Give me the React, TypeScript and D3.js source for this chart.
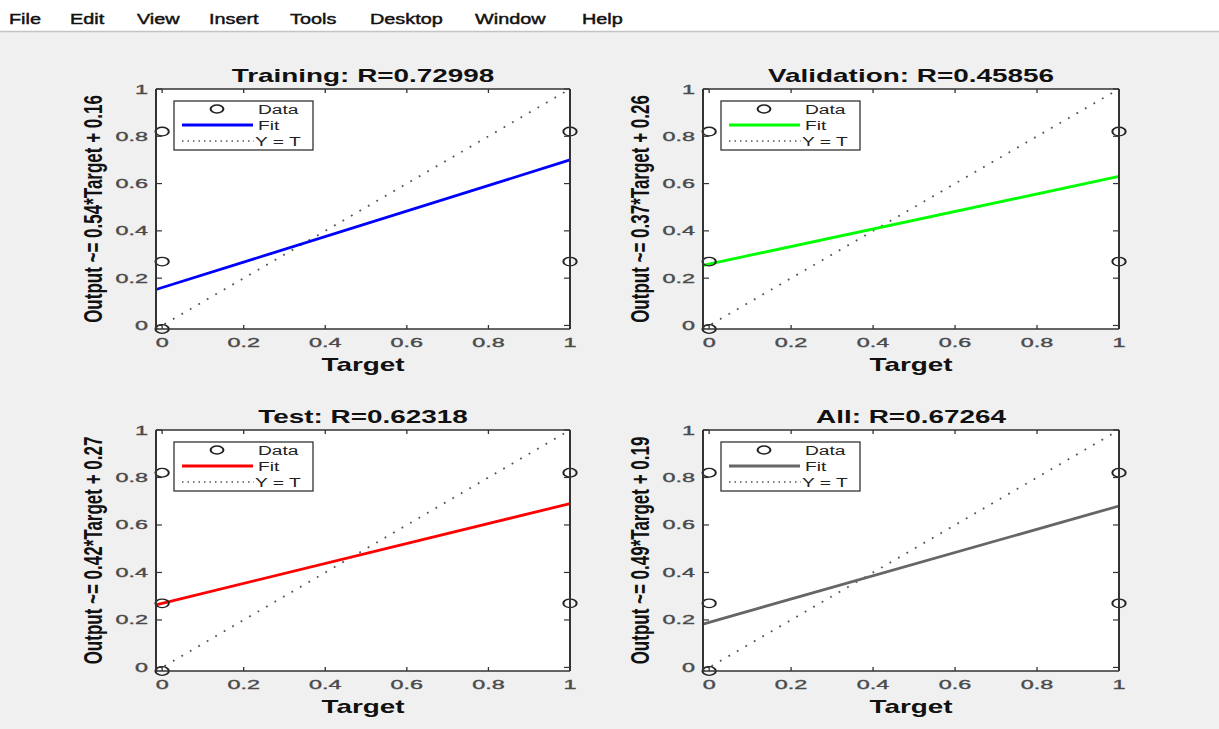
import React from "react";
import * as d3 from "d3";

// ---------- data ----------
const menuItems = ["File", "Edit", "View", "Insert", "Tools", "Desktop", "Window", "Help"];
const panelNames = ["Training", "Validation", "Test", "All"];
const rValues = ["0.72998", "0.45856", "0.62318", "0.67264"];
const slopes = [0.54, 0.37, 0.42, 0.49];
const intercepts = [0.16, 0.26, 0.27, 0.19];
const slopeLabels = ["0.54", "0.37", "0.42", "0.49"];
const interceptLabels = ["0.16", "0.26", "0.27", "0.19"];
const fitColors = ["#0000ff", "#00ff00", "#ff0000", "#666666"];
const dataTargets = [0, 0, 0, 1, 1];
const dataOutputs = [0.82, 0.27, -0.015, 0.82, 0.27];
const axisLimits: [number, number] = [-0.015, 1];
const tickValues = [0, 0.2, 0.4, 0.6, 0.8, 1];
const tickLabels = ["0", "0.2", "0.4", "0.6", "0.8", "1"];
const legendLabels = ["Data", "Fit", "Y = T"];

// ---------- layout ----------
const W = 1219;
const H = 729;
const colLeft = [156, 703];
const colRight = [570, 1119];
const rowTop = [89, 430];
const rowBottom = [329, 671];
const menuX = [9, 70, 137, 209, 290, 370, 475, 582];
const FONT = "'Liberation Sans', Arial, Helvetica, sans-serif";
const AX = "#333333";

function T(props: {
  x: number; y: number; text: string; sx?: number; size: number;
  anchor?: "start" | "middle" | "end"; weight?: string; fill?: string; rotate?: boolean; stroke?: number;
}) {
  const { x, y, text, sx = 1, size, anchor = "start", weight = "normal", fill = "#000", rotate, stroke = 0 } = props;
  const tr = rotate
    ? `translate(${x},${y}) rotate(-90) scale(1,${sx})`
    : `translate(${x},${y}) scale(${sx},1)`;
  return (
    <text transform={tr} fontSize={size} fontFamily={FONT} fontWeight={weight} fill={fill} textAnchor={anchor}
      stroke={stroke ? fill : "none"} strokeWidth={stroke}>
      {text}
    </text>
  );
}

function Panel({ idx }: { idx: number }) {
  const col = idx % 2;
  const row = Math.floor(idx / 2);
  const left = colLeft[col];
  const right = colRight[col];
  const top = rowTop[row];
  const bottom = rowBottom[row];
  const x = d3.scaleLinear().domain(axisLimits).range([left, right]);
  const y = d3.scaleLinear().domain(axisLimits).range([bottom, top]);
  const line = d3.line<[number, number]>().x((d) => x(d[0])).y((d) => y(d[1]));
  const fitPts: [number, number][] = axisLimits.map((t) => [t, slopes[idx] * t + intercepts[idx]]);
  const idPts: [number, number][] = axisLimits.map((t) => [t, t]);
  const cx = (left + right) / 2;
  const cy = (top + bottom) / 2;
  const lgX = left + 18;
  const lgY = top + 12;
  const SX = 1.55;
  return (
    <g>
      <rect x={left} y={top} width={right - left} height={bottom - top} fill="#ffffff" />
      {/* identity line */}
      <path d={line(idPts) || ""} stroke="#555" strokeWidth={1.8} strokeDasharray="1.8 8" fill="none" />
      {/* fit line */}
      <path d={line(fitPts) || ""} stroke={fitColors[idx]} strokeWidth={2.8} fill="none" />
      {/* data */}
      {dataTargets.map((t, i) => (
        <circle key={i} r={4.3} transform={`translate(${x(t)},${y(dataOutputs[i])}) scale(1.55,1)`}
          fill="none" stroke="#222" strokeWidth={1.3} />
      ))}
      {/* ticks */}
      {tickValues.map((t, i) => (
        <g key={i}>
          <line x1={x(t)} x2={x(t)} y1={bottom} y2={bottom - 4} stroke={AX} strokeWidth={1.3} />
          <line x1={x(t)} x2={x(t)} y1={top} y2={top + 4} stroke={AX} strokeWidth={1.3} />
          <line x1={left} x2={left + 6} y1={y(t)} y2={y(t)} stroke={AX} strokeWidth={1.2} />
          <line x1={right} x2={right - 6} y1={y(t)} y2={y(t)} stroke={AX} strokeWidth={1.2} />
          <T x={x(t)} y={bottom + 18} text={tickLabels[i]} size={13} sx={1.8} anchor="middle" fill="#4a4a4a" stroke={0.35} />
          <T x={left - 8} y={y(t) + 4.5} text={tickLabels[i]} size={13} sx={1.8} anchor="end" fill="#4a4a4a" stroke={0.35} />
        </g>
      ))}
      {/* box */}
      <line x1={left} x2={right} y1={top} y2={top} stroke={AX} strokeWidth={1.3} />
      <line x1={left} x2={right} y1={bottom} y2={bottom} stroke={AX} strokeWidth={1.3} />
      <line x1={left} x2={left} y1={top} y2={bottom} stroke={AX} strokeWidth={2} />
      <line x1={right} x2={right} y1={top} y2={bottom} stroke={AX} strokeWidth={2} />
      {/* legend */}
      <rect x={lgX} y={lgY} width={139} height={49} fill="#fff" stroke={AX} strokeWidth={1.3} />
      <circle r={4} transform={`translate(${lgX + 43},${lgY + 8}) scale(1.6,1)`} fill="none" stroke="#222" strokeWidth={1.3} />
      <line x1={lgX + 8} x2={lgX + 79} y1={lgY + 24} y2={lgY + 24} stroke={fitColors[idx]} strokeWidth={2.8} />
      <line x1={lgX + 8} x2={lgX + 80} y1={lgY + 40} y2={lgY + 40} stroke="#555" strokeWidth={1.5} strokeDasharray="1.5 4" />
      <T x={lgX + 84} y={lgY + 13} text={legendLabels[0]} size={12} sx={1.6} fill="#222" />
      <T x={lgX + 84} y={lgY + 29} text={legendLabels[1]} size={12} sx={1.6} fill="#222" />
      <T x={lgX + 81} y={lgY + 45} text={legendLabels[2]} size={12} sx={1.6} fill="#222" />
      {/* title */}
      <T x={cx} y={top - 7} text={`${panelNames[idx]}: R=${rValues[idx]}`} size={18} sx={SX} anchor="middle" weight="bold" fill="#111" />
      {/* x label */}
      <T x={cx} y={bottom + 42} text="Target" size={18} sx={SX} anchor="middle" weight="bold" fill="#111" />
      {/* y label */}
      <T x={left - 54} y={cy} text={`Output ~= ${slopeLabels[idx]}*Target + ${interceptLabels[idx]}`} size={17} sx={SX} anchor="middle" weight="bold" fill="#111" rotate />
    </g>
  );
}

export default function App() {
  return (
    <svg width={W} height={H} style={{ position: "absolute", left: 0, top: 0, display: "block" }}>
      <rect x={0} y={0} width={W} height={H} fill="#f0f0f0" />
      <rect x={0} y={0} width={W} height={31} fill="#ffffff" />
      <line x1={0} x2={W} y1={31.5} y2={31.5} stroke="#c4c4c4" strokeWidth={1.5} />
      {menuItems.map((m, i) => (
        <T key={m} x={menuX[i]} y={24} text={m} size={15.5} sx={1.28} fill="#111" stroke={0.45} />
      ))}
      {[0, 1, 2, 3].map((i) => (
        <Panel key={i} idx={i} />
      ))}
    </svg>
  );
}
